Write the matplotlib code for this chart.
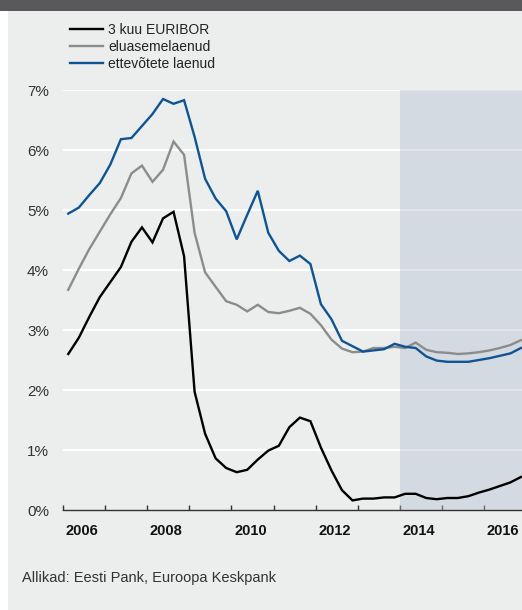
import numpy as np
import matplotlib
matplotlib.use("Agg")
import matplotlib.pyplot as plt
from matplotlib.patches import Rectangle

# quarterly averages, 2006 Q1 .. 2016 Q4, plotted at mid-quarter
quarters = np.arange(2006, 2017, 0.25) + 0.125

euribor = [2.60, 2.87, 3.22, 3.55, 3.80, 4.05, 4.47, 4.71, 4.46, 4.86, 4.97, 4.23,
           1.97, 1.27, 0.86, 0.70, 0.63, 0.67, 0.84, 0.99, 1.07, 1.38, 1.54, 1.48,
           1.04, 0.66, 0.33, 0.16, 0.19, 0.19, 0.21, 0.21, 0.27, 0.27, 0.20, 0.18,
           0.20, 0.20, 0.23, 0.29, 0.34, 0.40, 0.46, 0.55]
housing = [3.67, 4.02, 4.35, 4.64, 4.93, 5.20, 5.61, 5.74, 5.47, 5.67, 6.14, 5.92,
           4.62, 3.96, 3.72, 3.48, 3.42, 3.31, 3.42, 3.30, 3.28, 3.32, 3.37, 3.27,
           3.08, 2.84, 2.69, 2.63, 2.64, 2.70, 2.70, 2.72, 2.70, 2.79, 2.67, 2.63,
           2.62, 2.60, 2.61, 2.63, 2.66, 2.70, 2.75, 2.83]
business = [4.94, 5.04, 5.25, 5.45, 5.76, 6.18, 6.20, 6.40, 6.60, 6.85, 6.77, 6.83,
            6.22, 5.52, 5.19, 4.98, 4.51, 4.92, 5.32, 4.62, 4.32, 4.15, 4.24, 4.10,
            3.43, 3.18, 2.82, 2.73, 2.64, 2.66, 2.68, 2.77, 2.72, 2.70, 2.56, 2.49,
            2.47, 2.47, 2.47, 2.50, 2.53, 2.57, 2.61, 2.70]

labels = ["3 kuu EURIBOR", "eluasemelaenud", "ettevõtete laenud"]
colors = ["#000000", "#8C8C8C", "#0F5492"]

year_ticks = list(range(2006, 2017))
year_labels = ["2006", "2008", "2010", "2012", "2014", "2016"]
label_pos = [2006.45, 2008.45, 2010.45, 2012.45, 2014.45, 2016.45]
pct_ticks = [0, 1, 2, 3, 4, 5, 6, 7]
shade_start = 2014
x_end = 2016.9

BG = "#ECEDED"
W, H = 522, 610

plt.rcParams["font.family"] = ["Liberation Sans", "DejaVu Sans"]

fig = plt.figure(figsize=(W / 100, H / 100), dpi=100)
fig.patch.set_facecolor("white")
# page background and dark header band
fig.add_artist(Rectangle((8 / W, 0), 1 - 8 / W, 1 - 11 / H, transform=fig.transFigure,
                         facecolor=BG, edgecolor="none", zorder=-10))
fig.add_artist(Rectangle((0, 1 - 11 / H), 1, 11 / H, transform=fig.transFigure,
                         facecolor="#59595B", edgecolor="none", zorder=-10))

ax = fig.add_axes([63 / W, 100 / H, 1 - 63 / W, 420 / H])
ax.set_facecolor(BG)

for y in pct_ticks[1:]:
    ax.axhline(y, color="white", lw=1.6, zorder=1)
ax.axvspan(shade_start, x_end, color="#B3C0D2", alpha=0.42, lw=0, zorder=2)

for series, lab, col in zip([euribor, housing, business], labels, colors):
    ax.plot(quarters, series, color=col, lw=1.7, label=lab, zorder=3,
            solid_joinstyle="miter")

ax.set_xlim(2006, x_end)
ax.set_ylim(0, 7)

for s in ["top", "right", "left"]:
    ax.spines[s].set_visible(False)
ax.spines["bottom"].set_color("#333333")
ax.spines["bottom"].set_linewidth(1.0)
ax.spines["bottom"].set_zorder(4)

ax.set_yticks(pct_ticks)
ax.set_yticklabels([f"{v}%" for v in pct_ticks], fontsize=11, color="#333333")
ax.tick_params(axis="y", length=0, pad=10)

ax.set_xticks(year_ticks)
ax.set_xticklabels([])
ax.tick_params(axis="x", which="major", direction="in", length=3.5, width=1,
               color="#333333")
ax.set_xticks(label_pos, minor=True)
ax.set_xticklabels(year_labels, minor=True, fontsize=10.5, fontweight="bold",
                   color="#111111")
ax.tick_params(axis="x", which="minor", length=0, pad=10)

fig.legend(loc="upper left", bbox_to_anchor=(70 / W, 1 - 23 / H), frameon=False,
           fontsize=10, handlelength=2.4, handletextpad=0.35, labelspacing=0.22,
           borderpad=0, borderaxespad=0, labelcolor="#222222")

fig.text(22 / W, 1 - 578 / H, "Allikad: Eesti Pank, Euroopa Keskpank", fontsize=10.5,
         color="#333333", va="center", ha="left")

fig.savefig("out.png", dpi=100, facecolor=fig.get_facecolor())
